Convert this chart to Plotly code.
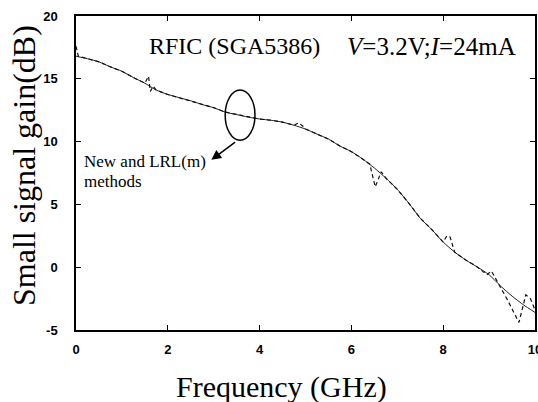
import plotly.graph_objects as go

# Small-signal gain of the RFIC, measured with both de-embedding methods
freq_ghz = [0.0, 0.25, 0.5, 0.75, 1.0, 1.25, 1.5, 1.75, 2.0, 2.25, 2.5, 2.75,
            3.0, 3.25, 3.5, 3.75, 4.0, 4.25, 4.5, 4.75, 5.0, 5.25, 5.5, 5.75,
            6.0, 6.25, 6.5, 6.75, 7.0, 7.25, 7.5, 7.75, 8.0, 8.25, 8.5, 8.75,
            9.0, 9.25, 9.5, 9.75, 10.0]
gain_new = [16.8, 16.6, 16.35, 15.95, 15.6, 15.1, 14.65, 14.1, 13.75, 13.5, 13.25, 12.95,
            12.7, 12.35, 12.15, 11.95, 11.8, 11.7, 11.55, 11.3, 11.0, 10.6, 10.2, 9.65,
            9.2, 8.6, 7.9, 7.1, 6.2, 5.1, 3.9, 3.0, 2.0, 1.2, 0.55, 0.0,
            -0.6, -1.5, -2.3, -3.0, -3.6]

freq_lrl = [0.0, 0.05, 0.25, 0.5, 0.75, 1.0, 1.25, 1.5, 1.58, 1.62, 1.68, 1.75,
            2.0, 2.25, 2.5, 2.75, 3.0, 3.25, 3.5, 3.75, 4.0, 4.25, 4.5, 4.75,
            4.85, 4.95, 5.0, 5.25, 5.5, 5.75, 6.0, 6.25, 6.4, 6.52, 6.65, 6.75,
            7.0, 7.25, 7.5, 7.75, 8.0, 8.08, 8.15, 8.25, 8.5, 8.75, 8.95, 9.05,
            9.25, 9.4, 9.65, 9.8, 9.9, 10.0]
gain_lrl = [17.6, 16.8, 16.6, 16.35, 15.95, 15.6, 15.1, 14.65, 15.2, 14.0, 14.4, 14.1,
            13.75, 13.5, 13.25, 12.95, 12.7, 12.35, 12.15, 11.95, 11.8, 11.7, 11.55, 11.3,
            11.5, 11.2, 11.0, 10.6, 10.2, 9.65, 9.2, 8.6, 8.2, 6.4, 7.6, 7.1,
            6.2, 5.1, 3.9, 3.0, 2.0, 2.5, 2.4, 1.2, 0.55, 0.0, -0.6, -0.3,
            -1.6, -2.6, -4.4, -2.2, -2.5, -3.4]

x_ticks = [0, 2, 4, 6, 8, 10]
y_ticks = [-5, 0, 5, 10, 15, 20]

serif = "Liberation Serif, Times New Roman, serif"
sans = "Liberation Sans, Arial, sans-serif"

fig = go.Figure()
fig.add_trace(go.Scatter(x=freq_ghz, y=gain_new, mode="lines",
                         line=dict(color="#222222", width=1, shape="spline", smoothing=0.6),
                         showlegend=False))
fig.add_trace(go.Scatter(x=freq_lrl, y=gain_lrl, mode="lines",
                         line=dict(color="#111111", width=1.2, dash="4px,3px"),
                         showlegend=False))

# Ellipse grouping the two curves and its pointer label
fig.add_shape(type="circle", xref="x", yref="y", x0=3.25, x1=3.9, y0=10.1, y1=14.1,
              line=dict(color="black", width=1.5))
fig.add_annotation(x=2.95, y=8.55, ax=3.5, ay=10.05, xref="x", yref="y",
                   axref="x", ayref="y", text="", showarrow=True,
                   arrowhead=2, arrowsize=1.3, arrowwidth=1.5, arrowcolor="black")
fig.add_annotation(x=0.14, y=8.4, xref="x", yref="y", xanchor="left", yanchor="middle",
                   text="New and LRL(m)", showarrow=False,
                   font=dict(family=serif, size=17, color="black"))
fig.add_annotation(x=0.14, y=6.8, xref="x", yref="y", xanchor="left", yanchor="middle",
                   text="methods", showarrow=False,
                   font=dict(family=serif, size=17, color="black"))

fig.add_annotation(x=1.55, y=17.6, xref="x", yref="y", xanchor="left", yanchor="middle",
                   text="RFIC (SGA5386)", showarrow=False,
                   font=dict(family=serif, size=24, color="black"))
fig.add_annotation(x=5.86, y=17.6, xref="x", yref="y", xanchor="left", yanchor="middle",
                   text="<i>V</i>=3.2V;<i>I</i>=24mA", showarrow=False,
                   font=dict(family=serif, size=25, color="black"))

# Axis titles
fig.add_annotation(x=281, y=387, xref="paper", yref="paper", showarrow=False,
                   text="Frequency (GHz)", xanchor="center", yanchor="middle",
                   font=dict(family=serif, size=30, color="black"))
fig.add_annotation(x=24, y=166, xref="paper", yref="paper", showarrow=False,
                   text="Small signal gain(dB)", textangle=-90,
                   xanchor="center", yanchor="middle",
                   font=dict(family=serif, size=32, color="black"))

axis_common = dict(showgrid=False, zeroline=False, showline=True, linecolor="black",
                   linewidth=1.5, mirror="ticks", ticks="inside", ticklen=5,
                   tickwidth=1, tickcolor="black", automargin=False,
                   ticklabeloverflow="allow",
                   tickfont=dict(family=sans, size=13, color="black", weight="bold"))

fig.update_xaxes(range=[0, 10], tickvals=x_ticks, ticktext=[str(v) for v in x_ticks],
                 ticklabelstandoff=7, **axis_common)
fig.update_yaxes(range=[-5, 20], tickvals=y_ticks, ticktext=[str(v) for v in y_ticks],
                 ticklabelstandoff=14, **axis_common)

W, H = 538, 402
fig.update_layout(width=W, height=H, margin=dict(l=76, r=3, t=16, b=72),
                  paper_bgcolor="white", plot_bgcolor="white")

# Convert pixel positions of the title annotations to paper fractions
plot_w = W - 76 - 3
plot_h = H - 16 - 72
for ann in fig.layout.annotations:
    if ann.xref == "paper":
        ann.x = (ann.x - 76) / plot_w
        ann.y = (H - 72 - ann.y) / plot_h

fig.write_html("out.html")
